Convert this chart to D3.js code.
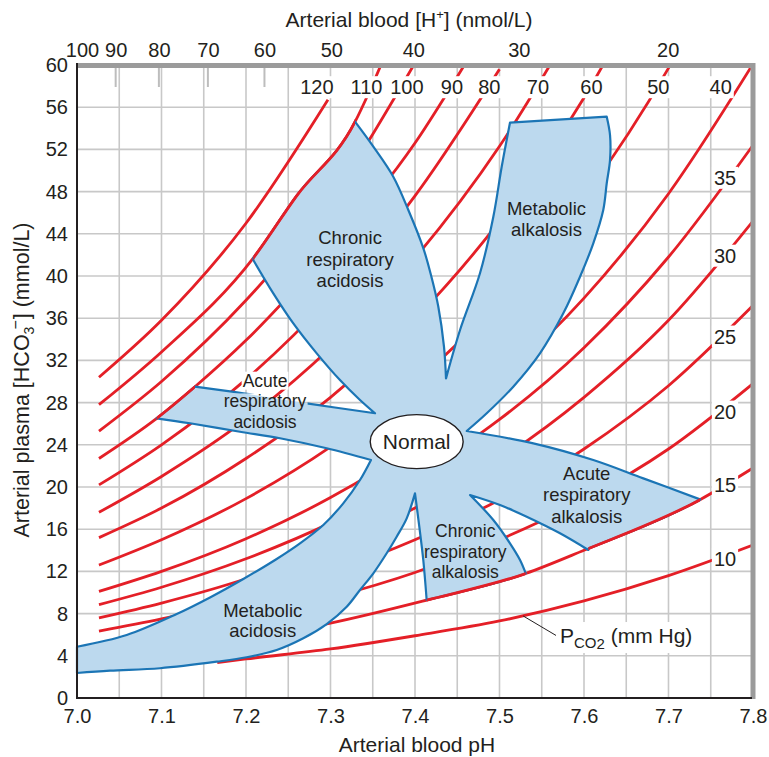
<!DOCTYPE html>
<html><head><meta charset="utf-8">
<script src="https://cdn.jsdelivr.net/npm/d3@7/dist/d3.min.js"></script>
<style>
body{margin:0;background:#fff;}
svg{display:block;}
text{font-family:"Liberation Sans",Arial,Helvetica,sans-serif;fill:#231f20;}
</style></head><body>
<svg id="chart" width="769" height="757"></svg>
<script>
// ---------------- data ----------------
const phTicks = [7.0,7.1,7.2,7.3,7.4,7.5,7.6,7.7,7.8];
const phGrid = [7.05,7.1,7.15,7.2,7.25,7.3,7.35,7.4,7.45,7.5,7.55,7.6,7.65,7.7,7.75];
const hco3Ticks = [0,4,8,12,16,20,24,28,32,36,40,44,48,52,56,60];
const hydrogenTicks = [100,90,80,70,60,50,40,30,20];
const hydrogenMarks = [90,80,70,60];
const pco2Levels = [120,110,100,90,80,70,60,50,40,35,30,25,20,15,10];
const topLabelLevels = [120,110,100,90,80,70,60,50,40];
const sideLabelLevels = [35,30,25,20,15,10];

// PCO2 isobars: [pH, HCO3-]
const iso120 = [[7.026,30.4],[7.1,35.8],[7.2,45.0],[7.297,56.7]];
const iso110 = [[7.026,27.8],[7.1,32.8],[7.2086,41.7],[7.26,47.6],[7.329,54.6],[7.345,57.3],[7.365,61]];
const iso100 = [[7.026,25.3],[7.1,30.0],[7.2,37.7],[7.3,47.3],[7.4,60.2]];
const iso90  = [[7.026,22.7],[7.0943,26.5],[7.1396,29.5],[7.2,33.9],[7.3,42.6],[7.4,52.6],[7.46,60.2]];
const iso80  = [[7.026,20.2],[7.1,24.0],[7.2,30.2],[7.3,38.0],[7.4,47.6],[7.5,59.6]];
const iso70  = [[7.026,17.6],[7.1,21.0],[7.2,26.4],[7.3,33.2],[7.4,41.7],[7.5,52.3],[7.6,65.5]];
const iso60  = [[7.026,15.2],[7.1,18.0],[7.2,22.7],[7.3,28.5],[7.4,35.9],[7.5,45.2],[7.6,56.9],[7.7,71.6]];
const iso50  = [[7.026,12.6],[7.1,15.0],[7.2,18.9],[7.3,23.8],[7.4,29.9],[7.5,37.7],[7.6,47.4],[7.7,59.7],[7.8,75.2]];
const iso40  = [[7.026,10.1],[7.1,12.0],[7.2,15.1],[7.3,19.0],[7.4,23.9],[7.5,30.1],[7.6,37.9],[7.7,47.8],[7.8,60.1]];
const iso35  = [[7.026,8.85],[7.1,10.5],[7.2,13.2],[7.3,16.6],[7.4,21.0],[7.5,26.4],[7.6,33.2],[7.7,41.8],[7.8,52.4]];
const iso30  = [[7.026,7.6],[7.1,9.0],[7.2,11.3],[7.3,14.3],[7.4,18.0],[7.5,22.6],[7.6,28.5],[7.7,35.8],[7.8,45.2]];
const iso25  = [[7.026,6.35],[7.1,7.5],[7.2,9.4],[7.3,11.9],[7.4,15.0],[7.5,18.8],[7.6,23.6],[7.7,29.6],[7.8,37.2]];
const iso20  = [[7.026,5.1],[7.1,6.0],[7.2,7.6],[7.3,9.5],[7.4,11.9],[7.5,15.0],[7.6,18.8],[7.7,23.6],[7.8,29.8]];
const iso15  = [[7.026,3.8],[7.1,4.5],[7.2,5.65],[7.3,7.1],[7.4138,9.28],[7.531,11.8],[7.6,14.0],[7.7373,18.8],[7.8,21.8]];
const iso10  = [[7.166,3.35],[7.2,3.7],[7.3,4.65],[7.4,5.9],[7.5,7.3],[7.6,9.2],[7.7,11.6],[7.8,14.5]];
const isobars = [iso120,iso110,iso100,iso90,iso80,iso70,iso60,iso50,iso40,iso35,iso30,iso25,iso20,iso15,iso10];

// outline pieces of the shaded acid-base map: [pH, HCO3-]
const chronicAcidRight = [[7.329,54.63],[7.3507,52.26],[7.3743,49.41],[7.3921,46.26],[7.4098,42.65],[7.4189,40.09],[7.4276,37.09],[7.4343,33.30],[7.4367,30.30]];
const metAlkLeft = [[7.4367,30.30],[7.4533,34.88],[7.4769,40.26],[7.4927,45.62],[7.5026,50.36],[7.5124,54.53]];
const metAlkTop = [[7.5124,54.53],[7.6269,55.10]];
const metAlkRight = [[7.6269,55.10],[7.6308,53.36],[7.6308,50.99],[7.6269,48.79],[7.6228,46.26],[7.6110,43.10],[7.5953,39.93],[7.5755,36.46],[7.5479,32.67],[7.5163,29.51],[7.4849,26.99],[7.4612,25.31]];
const acuteAlkTop = [[7.4612,25.31],[7.5400,24.14],[7.6110,22.56],[7.6702,20.82],[7.7373,18.83]];
const acuteAlkInner = [[7.6051,14.03],[7.5716,15.61],[7.5322,17.18],[7.5006,18.29],[7.4651,19.24]];
const chronicAlkRight = [[7.4651,19.24],[7.4927,16.87],[7.5124,14.66],[7.5243,13.08],[7.5310,11.82]];
const chronicAlkLeft = [[7.4138,9.29],[7.4098,13.08],[7.4051,16.24],[7.4,19.40]];
const metAcidRight = [[7.4,19.40],[7.3902,17.03],[7.3783,15.29],[7.3665,13.72],[7.3507,11.82],[7.3349,10.24],[7.3192,8.65],[7.2955,7.01],[7.2678,5.66],[7.2363,4.55],[7.2008,3.86],[7.1653,3.44],[7.0982,2.82],[7.0391,2.59],[7.0,2.37]];
const metAcidLeft = [[7.0,2.37],[7.0,4.86]];
const metAcidTop = [[7.0,4.86],[7.0588,5.97],[7.1180,7.96],[7.1574,9.53],[7.1968,11.28],[7.2363,13.18],[7.2639,14.66],[7.2915,16.40],[7.3151,18.45],[7.3349,20.66],[7.3479,22.56]];
const acuteAcidLower = [[7.3479,22.56],[7.2955,23.67],[7.2402,24.62],[7.1929,25.24],[7.1337,26.04],[7.0943,26.51]];
const acuteAcidUpper = [[7.1396,29.51],[7.1968,28.88],[7.2718,27.93],[7.3527,26.99]];
const chronicAcidLower = [[7.3527,26.99],[7.3349,28.25],[7.3112,30.14],[7.2837,32.67],[7.2560,35.51],[7.2323,38.36],[7.2086,41.52]];

const normalCenter = [7.402, 24.3];
const normalRadii = [0.055, 2.56];

// ---------------- chart ----------------
const W = 769, H = 757;
const FONT = '"Liberation Sans",Arial,Helvetica,sans-serif';
const RED = "#e41f27", BLUE = "#1b75b5", FILL = "#bcd9ee", GRID = "#c8c8c8", INK = "#231f20";
const x = d3.scaleLinear().domain([7.0, 7.8]).range([77, 753]);
const y = d3.scaleLinear().domain([0, 60]).range([698, 65]);
const xH = d3.scaleLog().domain([100, Math.pow(10, 9 - 7.8)]).range([77, 753]);

const svg = d3.select("#chart");
const defs = svg.append("defs");
defs.append("clipPath").attr("id", "plot").append("rect")
  .attr("x", x(7.0)).attr("y", y(60)).attr("width", x(7.8) - x(7.0)).attr("height", y(0) - y(60));

const gGrid = svg.append("g").attr("clip-path", "url(#plot)");
const gIso = svg.append("g").attr("clip-path", "url(#plot)");
const gFill = svg.append("g");
const gStroke = svg.append("g");
const gOver = svg.append("g");
const gNormal = svg.append("g");
const gLab = svg.append("g");
const gIsoLab = svg.append("g");
const gAxes = svg.append("g");

// grid
gGrid.selectAll("line.v").data(phGrid).join("line").attr("class", "v")
  .attr("x1", d => x(d)).attr("x2", d => x(d)).attr("y1", y(60)).attr("y2", y(0))
  .attr("stroke", GRID).attr("stroke-width", 1.6);
gGrid.selectAll("line.h").data(hco3Ticks.filter(d => d > 0 && d < 60)).join("line").attr("class", "h")
  .attr("x1", x(7.0)).attr("x2", x(7.8)).attr("y1", d => y(d)).attr("y2", d => y(d))
  .attr("stroke", GRID).attr("stroke-width", 1.6);

// isobars
const isoLine = d3.line().x(d => x(d[0])).y(d => y(d[1])).curve(d3.curveMonotoneX);
const isoPaths = gIso.selectAll("path").data(isobars).join("path")
  .attr("d", isoLine).attr("fill", "none").attr("stroke", RED).attr("stroke-width", 2.8);
const isoNode = {};
pco2Levels.forEach((p, i) => { isoNode[p] = isoPaths.nodes()[i]; });

function samplePath(node) {
  const L = node.getTotalLength(), pts = [];
  for (let s = 0; s <= L; s += 0.5) { const p = node.getPointAtLength(s); pts.push([p.x, p.y]); }
  return pts;
}
const isoSamples = {};
pco2Levels.forEach(p => { isoSamples[p] = samplePath(isoNode[p]); });

function isoPoints(level, a, b) {
  const xa = x(a), xb = x(b), lo = Math.min(xa, xb), hi = Math.max(xa, xb);
  const pts = isoSamples[level].filter(p => p[0] >= lo && p[0] <= hi);
  if (xa > xb) pts.reverse();
  return pts;
}

// outline of shaded regions
const traced = d3.line().x(d => x(d[0])).y(d => y(d[1])).curve(d3.curveCatmullRom.alpha(0.5));
const outline = [
  {iso: 110, a: 7.2086, b: 7.329},
  {pts: chronicAcidRight},
  {pts: metAlkLeft},
  {pts: metAlkTop},
  {pts: metAlkRight},
  {pts: acuteAlkTop},
  {iso: 15, a: 7.7373, b: 7.6051},
  {pts: acuteAlkInner},
  {pts: chronicAlkRight},
  {iso: 15, a: 7.531, b: 7.4138},
  {pts: chronicAlkLeft},
  {pts: metAcidRight},
  {pts: metAcidLeft},
  {pts: metAcidTop},
  {pts: acuteAcidLower},
  {iso: 90, a: 7.0943, b: 7.1396},
  {pts: acuteAcidUpper},
  {pts: chronicAcidLower}
];
let dStr = "";
outline.forEach(s => {
  if (s.iso !== undefined) {
    dStr += isoPoints(s.iso, s.a, s.b).map(p => "L" + p[0].toFixed(2) + "," + p[1].toFixed(2)).join("");
  } else {
    dStr += "L" + traced(s.pts).slice(1);
  }
});
dStr = "M" + dStr.slice(1) + "Z";

gFill.append("path").attr("d", dStr).attr("fill", FILL);

// region labels
const regionLabels = [
  {lines: ["Chronic", "respiratory", "acidosis"], ph: 7.3231, hco3: 43.03, lh: 21.5, fs: 18.5},
  {lines: ["Metabolic", "alkalosis"], ph: 7.5556, hco3: 45.78, lh: 20.5, fs: 18.5},
  {lines: ["Acute", "respiratory", "acidosis"], ph: 7.2225, hco3: 29.51, lh: 20.8, fs: 17.5, box: 0, mask: 1},
  {lines: ["Acute", "respiratory", "alkalosis"], ph: 7.6032, hco3: 20.66, lh: 21.3, fs: 18.5},
  {lines: ["Chronic", "respiratory", "alkalosis"], ph: 7.4595, hco3: 15.23, lh: 20.5, fs: 17.5},
  {lines: ["Metabolic", "acidosis"], ph: 7.2198, hco3: 7.71, lh: 20, fs: 18.5}
];
const maskRects = [];
regionLabels.forEach(lab => {
  lab.lines.forEach((t, i) => {
    const g = gLab.append("g");
    const r = g.append("rect").attr("fill", "#fff");
    const tx = g.append("text").attr("x", x(lab.ph)).attr("y", y(lab.hco3) + i * lab.lh)
      .attr("text-anchor", "middle").attr("font-size", lab.fs).text(t);
    const bb = tx.node().getBBox();
    if (lab.box === i) {
      r.attr("x", bb.x - 1).attr("y", bb.y + 1).attr("width", bb.width + 2).attr("height", bb.height - 2);
    } else r.remove();
    if (lab.mask === i) maskRects.push(bb);
  });
});

// stroke mask (label knock-out on outline)
const mask = defs.append("mask").attr("id", "strokeMask").attr("maskUnits", "userSpaceOnUse")
  .attr("x", 0).attr("y", 0).attr("width", W).attr("height", H);
mask.append("rect").attr("width", W).attr("height", H).attr("fill", "#fff");
maskRects.forEach(bb => mask.append("rect").attr("x", bb.x - 1).attr("y", bb.y + 2)
  .attr("width", bb.width + 2).attr("height", bb.height - 2).attr("fill", "#000"));

gStroke.append("path").attr("d", dStr).attr("fill", "none").attr("stroke", BLUE)
  .attr("stroke-width", 2.2).attr("stroke-linejoin", "round").attr("mask", "url(#strokeMask)");

// red isobar edges on top of the outline
outline.filter(s => s.iso !== undefined).forEach((s, i) => {
  const lo = Math.min(x(s.a), x(s.b)), hi = Math.max(x(s.a), x(s.b));
  defs.append("clipPath").attr("id", "ov" + i).append("rect")
    .attr("x", lo).attr("y", 0).attr("width", hi - lo).attr("height", H);
  gOver.append("path").attr("d", isoLine(isobars[pco2Levels.indexOf(s.iso)]))
    .attr("clip-path", "url(#ov" + i + ")").attr("fill", "none").attr("stroke", RED).attr("stroke-width", 2.8);
});

// Normal
gNormal.append("ellipse")
  .attr("cx", x(normalCenter[0])).attr("cy", y(normalCenter[1]))
  .attr("rx", x(normalCenter[0] + normalRadii[0]) - x(normalCenter[0]))
  .attr("ry", y(normalCenter[1] - normalRadii[1]) - y(normalCenter[1]))
  .attr("fill", "#fff").attr("stroke", INK).attr("stroke-width", 1.4);
gNormal.append("text").attr("x", x(normalCenter[0])).attr("y", y(normalCenter[1]) + 7.5)
  .attr("text-anchor", "middle").attr("font-size", 21).text("Normal");

// isobar labels
function nearestY(level, ty) {
  let best = null, bd = 1e9;
  isoSamples[level].forEach(p => { const d = Math.abs(p[1] - ty); if (d < bd) { bd = d; best = p; } });
  return best;
}
function nearestX(level, tx) {
  let best = null, bd = 1e9;
  isoSamples[level].forEach(p => { const d = Math.abs(p[0] - tx); if (d < bd) { bd = d; best = p; } });
  return best;
}
function boxedLabel(cx, cy, t) {
  const g = gIsoLab.append("g");
  const r = g.append("rect").attr("fill", "#fff");
  const tx = g.append("text").attr("x", cx).attr("y", cy + 7.2).attr("text-anchor", "middle")
    .attr("font-size", 20).text(t);
  const bb = tx.node().getBBox();
  r.attr("x", bb.x - 2).attr("y", bb.y).attr("width", bb.width + 4).attr("height", bb.height);
}
const topY = 87;
const topNudge = {120: -11, 110: -5, 100: 6, 40: -18};
topLabelLevels.forEach(p => {
  const pt = nearestY(p, topY);
  boxedLabel(pt[0] + (topNudge[p] !== undefined ? topNudge[p] : 1), topY, String(p));
});
const sideX = 725;
const sideNudge = {35: -6, 30: 0, 25: 3, 20: 5, 15: 0, 10: 3};
sideLabelLevels.forEach(p => {
  const pt = nearestX(p, sideX);
  boxedLabel(sideX, pt[1] + sideNudge[p], String(p));
});

// PCO2 (mm Hg) annotation
(function () {
  const anchor = nearestX(10, x(7.528));
  const g = gIsoLab.append("g");
  const r = g.append("rect").attr("fill", "#fff");
  const tx = g.append("text").attr("x", x(7.5716)).attr("y", y(5.21)).attr("font-size", 21);
  tx.append("tspan").text("P");
  tx.append("tspan").attr("dy", 5).attr("font-size", 15).text("CO");
  tx.append("tspan").attr("dy", 1).attr("font-size", 15).text("2");
  tx.append("tspan").attr("dy", -6).attr("font-size", 21).text(" (mm Hg)");
  const bb = tx.node().getBBox();
  r.attr("x", bb.x - 4).attr("y", bb.y - 2).attr("width", bb.width + 8).attr("height", bb.height + 3);
  g.insert("line", "rect").attr("x1", anchor[0]).attr("y1", anchor[1])
    .attr("x2", x(7.5716) - 3).attr("y2", y(5.21) - 7).attr("stroke", INK).attr("stroke-width", 1);
})();

// frame
gAxes.append("rect").attr("x", 76).attr("y", 63).attr("width", 679).attr("height", 5).attr("fill", "#9b9b9b");
gAxes.append("rect").attr("x", 750.5).attr("y", 63).attr("width", 5).attr("height", y(0) - 63 + 1).attr("fill", "#9b9b9b");
gAxes.append("line").attr("x1", x(7.0)).attr("x2", x(7.0)).attr("y1", 63).attr("y2", y(0) + 1)
  .attr("stroke", INK).attr("stroke-width", 2);
gAxes.append("line").attr("x1", x(7.0) - 1).attr("x2", 752).attr("y1", y(0)).attr("y2", y(0))
  .attr("stroke", INK).attr("stroke-width", 2);

// top hydrogen-ion marks
gAxes.selectAll("line.hm").data(hydrogenMarks).join("line").attr("class", "hm")
  .attr("x1", d => xH(d)).attr("x2", d => xH(d)).attr("y1", 68).attr("y2", 87)
  .attr("stroke", "#bdbdbd").attr("stroke-width", 2);

// axes
function styleAxis(g) {
  g.select(".domain").remove();
  g.attr("font-size", 20).attr("font-family", FONT);
}
gAxes.append("g").attr("transform", `translate(0,${y(0)})`)
  .call(d3.axisBottom(x).tickValues(phTicks).tickFormat(d3.format(".1f")).tickSize(0).tickPadding(11))
  .call(styleAxis);
gAxes.append("g").attr("transform", `translate(${x(7.0)},0)`)
  .call(d3.axisLeft(y).tickValues(hco3Ticks).tickFormat(d3.format("d")).tickSize(0).tickPadding(9))
  .call(styleAxis);
gAxes.append("g").attr("transform", `translate(0,${y(60)})`)
  .call(d3.axisTop(xH).tickValues(hydrogenTicks).tickFormat(d3.format("d")).tickSize(0).tickPadding(8))
  .call(styleAxis)
  .call(g => g.selectAll(".tick text").filter(d => d === 100).attr("dx", 5));

// titles
gAxes.append("text").attr("x", 417).attr("y", 752).attr("text-anchor", "middle").attr("font-size", 21)
  .text("Arterial blood pH");
const tt = gAxes.append("text").attr("x", 409).attr("y", 27).attr("text-anchor", "middle").attr("font-size", 21);
tt.append("tspan").text("Arterial blood [H");
tt.append("tspan").attr("dy", -8).attr("font-size", 13).text("+");
tt.append("tspan").attr("dy", 8).text("] (nmol/L)");
const yt = gAxes.append("text").attr("transform", "translate(29,380) rotate(-90)")
  .attr("text-anchor", "middle").attr("font-size", 21.5);
yt.append("tspan").text("Arterial plasma [HCO");
yt.append("tspan").attr("dy", 5).attr("font-size", 14).text("3");
yt.append("tspan").attr("dx", -3).attr("dy", -13).attr("font-size", 16).text("\u2212");
yt.append("tspan").attr("dx", 1).attr("dy", 8).text("] (mmol/L)");
</script>
</body></html>
